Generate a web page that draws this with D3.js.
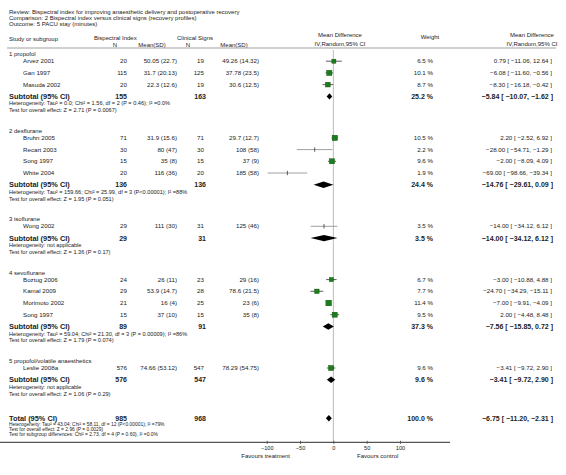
<!DOCTYPE html>
<html><head><meta charset="utf-8">
<script src="https://cdn.jsdelivr.net/npm/d3@7/dist/d3.min.js"></script>
<style>body{margin:0;background:#fff}text{font-family:"Liberation Sans",Arial,sans-serif;fill:#222}</style>
</head><body><svg id="c" width="566" height="475"></svg>
<script>
// ---------- data ----------
const titleLines = ["Review:  Bispectral index for improving anaesthetic delivery and postoperative recovery",
  "Comparison:  2 Bispectral index versus clinical signs (recovery profiles)",
  "Outcome:  5 PACU stay (minutes)"];
const groupNames = ["1 propofol","2 desflurane","3 isoflurane","4 sevoflurane","5 propofol/volatile anaesthetics"];
const studyNames = ["Arvez 2001","Gan 1997","Masuda 2002","Bruhn 2005","Recart 2003","Song 1997","White 2004","Wong 2002","Boztug 2006","Kamal 2009","Morimoto 2002","Song 1997","Leslie 2008a"];
const studyGroup = [0,0,0,1,1,1,1,2,3,3,3,3,4];
const n1 = [20,115,20,71,30,15,20,29,24,29,21,15,576];
const meanSd1 = ["50.05 (22.7)","31.7 (20.13)","22.3 (12.6)","31.9 (15.6)","80 (47)","35 (8)","116 (36)","111 (30)","26 (11)","53.9 (14.7)","16 (4)","37 (10)","74.66 (53.12)"];
const n2 = [19,125,19,71,30,15,20,31,23,28,25,15,547];
const meanSd2 = ["49.26 (14.32)","37.78 (23.5)","30.6 (12.5)","29.7 (12.7)","108 (58)","37 (9)","185 (58)","125 (46)","29 (16)","78.6 (21.5)","23 (6)","35 (8)","78.29 (54.75)"];
const md = [0.79,-6.08,-8.30,2.20,-28.00,-2.00,-69.00,-14.00,-3.00,-24.70,-7.00,2.00,-3.41];
const ciLo = [-11.06,-11.60,-16.18,-2.52,-54.71,-8.09,-98.66,-34.12,-10.88,-34.29,-9.91,-4.48,-9.72];
const ciHi = [12.64,-0.56,-0.42,6.92,-1.29,4.09,-39.34,6.12,4.88,-15.11,-4.09,8.48,2.90];
const weight = [6.5,10.1,8.7,10.5,2.2,9.6,1.9,3.5,6.7,7.7,11.4,9.5,9.6];
const subN1 = [155,136,29,89,576];
const subN2 = [163,136,31,91,547];
const subWeight = [25.2,24.4,3.5,37.3,9.6];
const subMd = [-5.84,-14.76,-14.00,-7.56,-3.41];
const subLo = [-10.07,-29.61,-34.12,-15.85,-9.72];
const subHi = [-1.62,0.09,6.12,0.72,2.90];
const subHet = ["Heterogeneity: Tau\u00b2 = 0.0; Chi\u00b2 = 1.56, df = 2 (P = 0.46); I\u00b2 =0.0%",
  "Heterogeneity: Tau\u00b2 = 159.66; Chi\u00b2 = 25.99, df = 3 (P<0.00001); I\u00b2 =88%",
  "Heterogeneity: not applicable",
  "Heterogeneity: Tau\u00b2 = 59.04; Chi\u00b2 = 21.30, df = 3 (P = 0.00009); I\u00b2 =86%",
  "Heterogeneity: not applicable"];
const subTest = ["Test for overall effect: Z = 2.71 (P = 0.0067)","Test for overall effect: Z = 1.95 (P = 0.051)",
  "Test for overall effect: Z = 1.36 (P = 0.17)","Test for overall effect: Z = 1.79 (P = 0.074)",
  "Test for overall effect: Z = 1.06 (P = 0.29)"];
const total = {n1:985,n2:968,w:100.0,md:-6.75,lo:-11.20,hi:-2.31};
const totalNotes = ["Heterogeneity: Tau\u00b2 = 43.04; Chi\u00b2 = 58.11, df = 12 (P<0.00001); I\u00b2 =79%",
  "Test for overall effect: Z = 2.96 (P = 0.0029)",
  "Test for subgroup differences: Chi\u00b2 = 2.73, df = 4 (P = 0.60), I\u00b2 =0.0%"];
const axisTicks = [-100,-50,0,50,100];

// ---------- layout ----------
const svg = d3.select("#c");
const x = d3.scaleLinear().domain([-100,100]).range([266.7,400]);
const GREEN = "#1c7d1c";
const f2 = d3.format(".2f");
const fw = d => d.toFixed(1) + " %";
const ciTxt = (m,l,h) => `${f2(m)} [ ${f2(l)}, ${f2(h)} ]`;

// build rows
const rows = [];
let y = 54;
groupNames.forEach((g, gi) => {
  rows.push({type:"group", y, text:g});
  const idx = d3.range(studyNames.length).filter(i => studyGroup[i] === gi);
  y += 7.2;
  idx.forEach((i, k) => { if (k>0) y += 11.7; rows.push({type:"study", y, i}); });
  y += 11.8; rows.push({type:"sub", y, gi});
  y += 7.1; rows.push({type:"note", y, text:subHet[gi]});
  y += 6.8; rows.push({type:"note", y, text:subTest[gi]});
  y += 20.4;
});
y = y - 20.4 + 24.5;
rows.push({type:"total", y});
y += 5.6; rows.push({type:"tnote", y, text:totalNotes[0]});
y += 5.4; rows.push({type:"tnote", y, text:totalNotes[1]});
y += 5.4; rows.push({type:"tnote", y, text:totalNotes[2]});
const axisY = 442.3;

// ---------- header ----------
const T = (px, py, s, size, anchor, weightF) => svg.append("text").attr("x",px).attr("y",py)
  .attr("dy","0.35em").attr("font-size",size).attr("text-anchor",anchor||"start")
  .attr("font-weight",weightF||"normal").text(s);
titleLines.forEach((t,k) => T(9, 12.3 + k*6, t, 6));
T(9,39,"Study or subgroup",6);
T(94,38,"Bispectral Index",6);
T(115,44.7,"N",6,"middle");
T(152,44.7,"Mean(SD)",6,"middle");
T(177,38,"Clinical Signs",6);
T(188,44.7,"N",6,"middle");
T(234,44.7,"Mean(SD)",6,"middle");
T(340,35,"Mean Difference",6,"middle");
T(340,44,"IV,Random,95% CI",6,"middle");
T(430,37,"Weight",6,"middle");
T(532,35,"Mean Difference",6,"middle");
T(532,44,"IV,Random,95% CI",6,"middle");
svg.append("line").attr("x1",7).attr("x2",556).attr("y1",48).attr("y2",48).attr("stroke","#888").attr("stroke-width",0.8);

// zero line
svg.append("line").attr("x1",x(0)).attr("x2",x(0)).attr("y1",50).attr("y2",axisY).attr("stroke","#aaa").attr("stroke-width",0.8);

// ---------- rows ----------
const diamond = (m,l,h,cy) => svg.append("path")
  .attr("d",`M${x(l)},${cy} L${x(m)},${cy-3.2} L${x(h)},${cy} L${x(m)},${cy+3.2} Z`).attr("fill","#000");

rows.forEach(r => {
  if (r.type==="group") T(9, r.y, r.text, 6);
  else if (r.type==="note") T(9, r.y, r.text, 5.6);
  else if (r.type==="tnote") T(9, r.y, r.text, 4.9);
  else if (r.type==="study") {
    const i = r.i;
    T(23, r.y, studyNames[i], 6.2);
    T(127, r.y, n1[i], 6.2, "end");
    T(177, r.y, meanSd1[i], 6.2, "end");
    T(204, r.y, n2[i], 6.2, "end");
    T(259, r.y, meanSd2[i], 6.2, "end");
    T(433, r.y, fw(weight[i]), 6.2, "end");
    T(552, r.y, ciTxt(md[i],ciLo[i],ciHi[i]), 6.2, "end");
    const small = weight[i] < 5;
    svg.append("line").attr("x1",x(ciLo[i])).attr("x2",x(ciHi[i])).attr("y1",r.y).attr("y2",r.y)
      .attr("stroke", small ? "#888" : "#333").attr("stroke-width",0.8);
    if (small) {
      svg.append("line").attr("x1",x(md[i])).attr("x2",x(md[i])).attr("y1",r.y-2.2).attr("y2",r.y+2.2)
        .attr("stroke","#333").attr("stroke-width",0.8);
    } else {
      const s = 2 + weight[i]*0.32;
      svg.append("rect").attr("x",x(md[i])-s/2).attr("y",r.y-s/2).attr("width",s).attr("height",s)
        .attr("fill",GREEN).attr("stroke","#0b4a0b").attr("stroke-width",0.4);
    }
  } else if (r.type==="sub") {
    const g = r.gi;
    T(9, r.y, "Subtotal (95% CI)", 7.4, "start", "bold");
    T(127, r.y, subN1[g], 7, "end", "bold");
    T(206, r.y, subN2[g], 7, "end", "bold");
    T(433, r.y, fw(subWeight[g]), 7, "end", "bold");
    T(553, r.y, ciTxt(subMd[g],subLo[g],subHi[g]), 7, "end", "bold");
    diamond(subMd[g],subLo[g],subHi[g],r.y);
  } else if (r.type==="total") {
    T(9, r.y, "Total (95% CI)", 7.4, "start", "bold");
    T(127, r.y, total.n1, 7, "end", "bold");
    T(206, r.y, total.n2, 7, "end", "bold");
    T(433, r.y, fw(total.w), 7, "end", "bold");
    T(553, r.y, ciTxt(total.md,total.lo,total.hi), 7, "end", "bold");
    diamond(total.md,total.lo,total.hi,r.y);
  }
});

// ---------- axis ----------
svg.append("line").attr("x1",0).attr("x2",450).attr("y1",axisY).attr("y2",axisY).attr("stroke","#555").attr("stroke-width",1.2);
const ax = svg.append("g").attr("transform",`translate(0,${axisY})`)
  .call(d3.axisBottom(x).tickValues(axisTicks).tickSize(2).tickFormat(d3.format("d")));
ax.select(".domain").remove();
ax.selectAll(".tick line").attr("y1",-1.5).attr("y2",1.5).attr("stroke","#555");
ax.selectAll(".tick text").attr("y",4).attr("font-size",5.6).attr("font-family","Liberation Sans, Arial, sans-serif").attr("fill","#222");
T(290, 455.5, "Favours treatment", 6, "end");
T(357, 455.5, "Favours control", 6, "start");
</script></body></html>
